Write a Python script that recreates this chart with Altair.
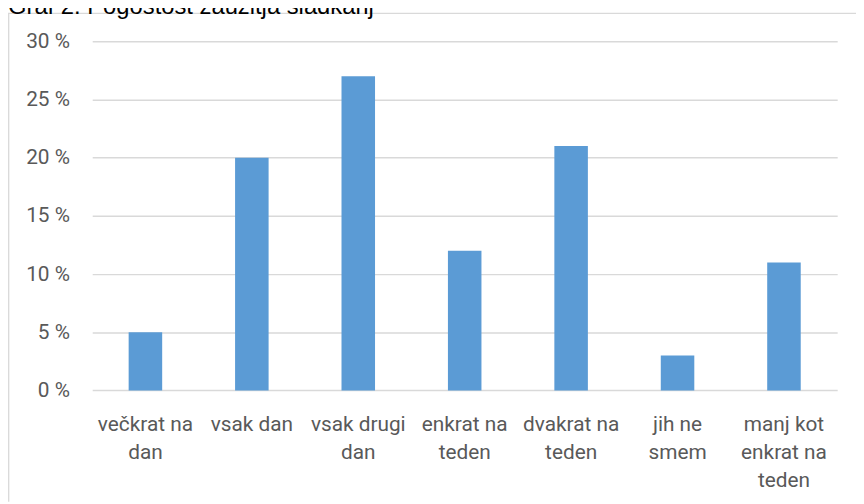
import json
import altair as alt
import pandas as pd

title_text = "Graf 2: Pogostost zaužitja sladkarij"
categories = ["večkrat na dan", "vsak dan", "vsak drugi dan", "enkrat na teden",
              "dvakrat na teden", "jih ne smem", "manj kot enkrat na teden"]
label_lines = [["večkrat na", "dan"], ["vsak dan"], ["vsak drugi", "dan"],
               ["enkrat na", "teden"], ["dvakrat na", "teden"], ["jih ne", "smem"],
               ["manj kot", "enkrat na", "teden"]]
values = [5, 20, 27, 12, 21, 3, 11]
y_ticks = [0, 5, 10, 15, 20, 25, 30]

df = pd.DataFrame({"kategorija": categories, "delež": values})

W, H = 752, 352.4
PAD = {"left": 85, "top": 31.3, "right": 19, "bottom": 112.3}

label_expr = (
    f"{json.dumps(label_lines, ensure_ascii=False)}"
    f"[indexof({json.dumps(categories, ensure_ascii=False)}, datum.label)]"
)

bars = alt.Chart(df).mark_bar(color="#5b9bd5").encode(
    x=alt.X("kategorija:N", sort=categories,
            scale=alt.Scale(paddingInner=0.685, paddingOuter=0.3425),
            axis=alt.Axis(title=None, labelAngle=0, domain=False, ticks=False,
                          labelFont="Roboto", labelFontSize=21, labelColor="#595959",
                          labelPadding=23, labelLineHeight=28.5, labelBaseline="top",
                          labelExpr=label_expr)),
    y=alt.Y("delež:Q", scale=alt.Scale(domain=[0, 30]),
            axis=alt.Axis(title=None, values=y_ticks, domain=False, ticks=False,
                          labelFont="Roboto", labelFontSize=21, labelColor="#595959",
                          labelPadding=23, labelExpr="datum.value + ' %'",
                          grid=True, gridColor="#d9d9d9", gridWidth=1.5)),
)

deco = pd.DataFrame({"t": [title_text]})

top_line = alt.Chart(deco).mark_rule(color="#d9d9d9", strokeWidth=1.3).encode(
    x=alt.value(-PAD["left"]), x2=alt.value(W + PAD["right"]), y=alt.value(-28.3))
left_line = alt.Chart(deco).mark_rule(color="#d9d9d9", strokeWidth=1.3).encode(
    x=alt.value(-PAD["left"] + 0.7), y=alt.value(-28.3), y2=alt.value(H + PAD["bottom"]))
title = alt.Chart(deco).mark_text(font="Liberation Sans", fontSize=24, color="#000000",
                                  align="left", baseline="alphabetic").encode(
    x=alt.value(-PAD["left"]), y=alt.value(-27.5), text="t:N")

chart = alt.layer(top_line, left_line, bars, title).properties(
    width=W, height=H, padding=PAD, autosize=alt.AutoSizeParams(type="none")
).configure_view(stroke=None)

chart.save("out.html", embed_options={"renderer": "svg", "actions": False})
